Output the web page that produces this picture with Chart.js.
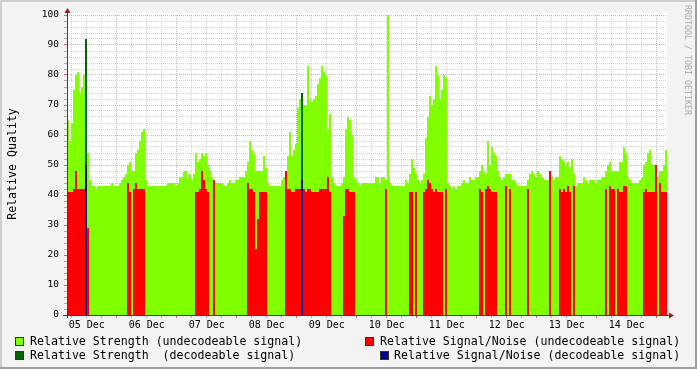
<!DOCTYPE html>
<html><head><meta charset="utf-8">
<script src="https://cdn.jsdelivr.net/npm/chart.js@4"></script>
<style>
html,body{margin:0;padding:0;background:#f3f3f3;}
#wrap{position:relative;width:697px;height:369px;overflow:hidden;font-family:"DejaVu Sans Mono",monospace;}
canvas{position:absolute;left:0;top:0;}
.t{position:absolute;font-size:11.6px;line-height:14px;white-space:pre;color:#000;}
.box{position:absolute;width:7px;height:7px;border:1px solid #333;}
#ytitle{position:absolute;left:12px;top:164px;transform:translate(-50%,-50%) rotate(-90deg);font-size:11.6px;white-space:pre;color:#000;}
#wm{position:absolute;left:688px;top:60px;transform:translate(-50%,-50%) rotate(90deg);font-size:8.3px;white-space:pre;color:#a8a8a8;}
</style></head>
<body>
<div id="wrap">
<canvas id="c" width="697" height="369"></canvas>
<div id="ytitle">Relative Quality</div>
<div id="wm">RRDTOOL / TOBI OETIKER</div>
<div class="box" style="left:15px;top:337px;background:#80ff00"></div>
<div class="t" style="left:30px;top:334px">Relative Strength (undecodeable signal)</div>
<div class="box" style="left:365px;top:337px;background:#ff0000"></div>
<div class="t" style="left:380px;top:334px">Relative Signal/Noise (undecodeable signal)</div>
<div class="box" style="left:15px;top:351px;background:#006400"></div>
<div class="t" style="left:30px;top:348px">Relative Strength  (decodeable signal)</div>
<div class="box" style="left:380px;top:351px;background:#000090"></div>
<div class="t" style="left:394px;top:348px">Relative Signal/Noise (decodeable signal)</div>
</div>
<script>
// ---- data ----
const sampleStartHour = 4.1;   // hours after 05 Dec 00:00
const sampleStepHours = 0.8;
const dayLabels = ['05 Dec','06 Dec','07 Dec','08 Dec','09 Dec','10 Dec','11 Dec','12 Dec','13 Dec','14 Dec'];

const strengthUndecodeable = [
65,58,64,75,80,81,74,76,80,84,
54,45,43,43,42,43,43,43,43,43,
43,43,44,43,43,43,44,45,46,47,
50,51,48,48,54,55,58,61,62,45,
43,43,43,43,43,43,43,43,43,43,
44,44,44,44,43,44,46,46,48,48,
46,47,45,47,54,51,52,54,53,54,
50,48,46,45,44,44,44,44,43,43,
44,45,44,44,45,45,46,46,46,48,
51,58,55,54,48,48,48,48,53,49,
44,43,43,43,43,43,43,45,46,46,
53,61,53,55,57,69,72,67,70,70,
83,72,71,72,73,77,79,83,81,80,
62,67,46,44,43,43,43,44,46,62,
66,65,60,46,45,44,43,44,44,44,
44,44,44,44,46,46,44,46,46,45,
100,44,43,43,43,43,43,43,43,45,
44,47,52,49,47,45,44,45,47,59,
66,73,70,72,83,80,72,75,80,79,
44,43,42,43,42,43,43,44,45,44,
44,46,45,45,46,46,48,50,48,47,
58,50,56,54,53,48,46,45,46,47,
47,47,45,45,44,43,43,43,43,43,
45,47,48,47,46,48,47,46,45,45,
45,46,46,45,46,46,53,52,51,50,
51,49,52,47,43,44,44,44,46,45,
44,45,45,45,44,45,45,46,46,48,
50,51,48,48,48,48,51,51,56,54,
46,45,44,44,44,44,45,46,50,51,
54,55,50,50,48,46,48,48,50,55];

const snrUndecodeable = [
41,41,41,42,48,42,42,42,42,42,
29,0,0,0,0,0,0,0,0,0,
0,0,0,0,0,0,0,0,0,0,
44,41,0,42,44,42,42,42,42,0,
0,0,0,0,0,0,0,0,0,0,
0,0,0,0,0,0,0,0,0,0,
0,0,0,0,41,41,42,48,45,42,
41,0,0,45,0,0,0,0,0,0,
0,0,0,0,0,0,0,0,0,0,
44,42,42,41,22,32,41,41,41,41,
0,0,0,0,0,0,0,0,0,48,
42,42,41,41,42,42,42,42,42,41,
42,42,41,41,41,41,42,42,42,42,
46,41,0,0,0,0,0,0,33,42,
42,41,41,41,0,0,0,0,0,0,
0,0,0,0,0,0,0,0,0,42,
0,0,0,0,0,0,0,0,0,0,
0,41,41,0,41,0,0,0,41,42,
45,44,42,41,42,41,41,41,0,42,
0,0,0,0,0,0,0,0,0,0,
0,0,0,0,0,0,42,41,0,42,
43,42,41,41,41,0,0,0,0,43,
0,42,0,0,0,0,0,0,0,0,
42,0,0,0,0,0,0,0,0,0,
0,48,0,0,0,0,42,41,42,41,
43,41,0,43,0,0,0,0,0,0,
0,0,0,0,0,0,0,0,0,42,
0,43,42,42,0,42,41,41,43,43,
0,0,0,0,0,0,0,0,41,42,
41,41,41,41,50,0,44,41,41,41];

// decodeable samples (sample index, value)
const decodeableSamples = [9, 117];
const strengthDecodeable = [92, 74];
const snrDecodeable = [50, 45];

// ---- build ----
const hourAt = i => sampleStartHour + i * sampleStepHours;
function toPoints(vals){
  const pts = vals.map((v,i)=>({x:hourAt(i), y:v}));
  pts.push({x:hourAt(vals.length), y:vals[vals.length-1]});
  return pts;
}
function sparse(idx, vals, n){
  const a = new Array(n).fill(0);
  idx.forEach((k,j)=>{ a[k] = vals[j]; });
  return a;
}
const N = strengthUndecodeable.length;
const minorGrid = 'rgba(140,140,140,0.38)';
const majorGrid = 'rgba(200,40,40,0.38)';

const deco = {
  id:'deco',
  beforeDraw(chart){
    const {ctx, chartArea:a} = chart;
    ctx.save();
    ctx.fillStyle='#f3f3f3'; ctx.fillRect(0,0,chart.width,chart.height);
    ctx.fillStyle='#ffffff'; ctx.fillRect(a.left, a.top-2, a.right-a.left, a.bottom-a.top+2);
    ctx.fillStyle='#cfcfcf'; ctx.fillRect(0,0,chart.width,2); ctx.fillRect(0,0,2,chart.height);
    ctx.fillStyle='#9e9e9e'; ctx.fillRect(0,chart.height-2,chart.width,2); ctx.fillRect(chart.width-2,0,2,chart.height);
    ctx.restore();
  },
  afterDraw(chart){
    const {ctx, chartArea:a, scales:{x,y}} = chart;
    ctx.save();
    ctx.lineWidth=1;
    x.ticks.forEach(t=>{
      const px=Math.round(x.getPixelForValue(t.value)-0.5)+0.5;
      ctx.strokeStyle = t.value%24===0?'rgba(200,40,40,0.7)':'rgba(140,140,140,0.7)';
      ctx.beginPath(); ctx.moveTo(px,a.bottom); ctx.lineTo(px,a.bottom+3); ctx.stroke();
    });
    y.ticks.forEach(t=>{
      const py=Math.round(y.getPixelForValue(t.value)-0.5)+0.5;
      ctx.strokeStyle = t.value%10===0?'rgba(200,40,40,0.7)':'rgba(140,140,140,0.7)';
      ctx.beginPath(); ctx.moveTo(a.left-3,py); ctx.lineTo(a.left,py); ctx.stroke();
    });
    const ax = Math.round(a.left-0.5)+0.5, ay = Math.round(a.bottom-0.5)+0.5;
    ctx.strokeStyle='#404040';
    ctx.beginPath(); ctx.moveTo(ax, a.bottom+3); ctx.lineTo(ax, a.top-2); ctx.stroke();
    ctx.beginPath(); ctx.moveTo(a.left-4, ay); ctx.lineTo(a.right+2, ay); ctx.stroke();
    ctx.fillStyle='#9a2020';
    ctx.beginPath(); ctx.moveTo(ax-3, a.top-2); ctx.lineTo(ax+3, a.top-2); ctx.lineTo(ax, a.top-7); ctx.closePath(); ctx.fill();
    ctx.beginPath(); ctx.moveTo(a.right+2, ay-3); ctx.lineTo(a.right+2, ay+3); ctx.lineTo(a.right+7, ay); ctx.closePath(); ctx.fill();
    ctx.restore();
  }
};

function ds(vals, color, order){
  return {data: toPoints(vals), backgroundColor: color, borderColor: 'transparent', borderWidth: 0,
    pointRadius: 0, fill: 'origin', stepped: true, order: order, tension: 0};
}

new Chart(document.getElementById('c'), {
  type: 'line',
  data: { datasets: [
    ds(strengthUndecodeable, '#80ff00', 4),
    ds(snrUndecodeable, '#ff0000', 3),
    ds(sparse(decodeableSamples, strengthDecodeable, N), '#006400', 2),
    ds(sparse(decodeableSamples, snrDecodeable, N), '#000090', 1)
  ]},
  options: {
    responsive: false, animation: false, devicePixelRatio: 1,
    layout: { padding: { top: 15, right: 30, left: 0, bottom: 0 } },
    plugins: { legend: { display: false }, tooltip: { enabled: false } },
    scales: {
      x: {
        type: 'linear', min: hourAt(0), max: hourAt(N), z: 1,
        afterFit: s => { s.height = 54; },
        afterBuildTicks: s => { const t=[]; for (let h=6; h<=240; h+=6) if (h>=s.min && h<=s.max) t.push({value:h}); s.ticks=t; },
        grid: { color: c => (c.tick && c.tick.value%24===0) ? majorGrid : minorGrid, drawTicks: false, lineWidth: 1 },
        border: { display: false, dash: [1,1] },
        ticks: { autoSkip: false, maxRotation: 0, minRotation: 0, padding: 4, color: '#000',
          font: { family: 'DejaVu Sans Mono', size: 10 },
          callback: v => (v%24===12) ? dayLabels[(v-12)/24] : '' }
      },
      y: {
        min: 0, max: 100, z: 1,
        afterFit: s => { s.width = 67; },
        afterBuildTicks: s => { const t=[]; for (let v=0; v<=100; v+=2) t.push({value:v}); s.ticks=t; },
        grid: { color: c => (c.tick && c.tick.value%10===0) ? majorGrid : minorGrid, drawTicks: false, lineWidth: 1 },
        border: { display: false, dash: [1,1] },
        ticks: { autoSkip: false, padding: 8, color: '#000',
          font: { family: 'DejaVu Sans Mono', size: 9.5 },
          callback: v => (v%10===0) ? String(v) : '' }
      }
    }
  },
  plugins: [deco]
});
</script>
</body></html>
